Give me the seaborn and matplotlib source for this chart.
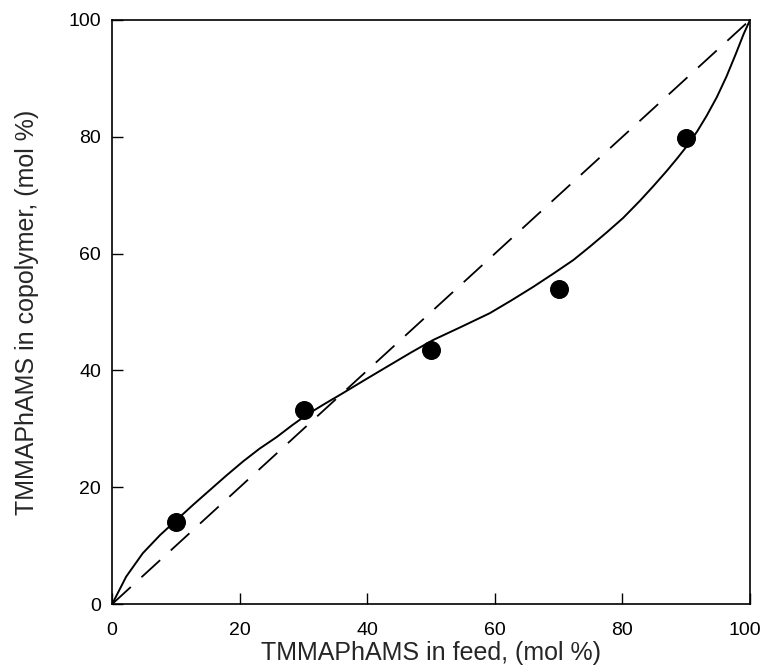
import numpy as np
import pandas as pd
import matplotlib
matplotlib.use('Agg')
import matplotlib.pyplot as plt
from matplotlib.transforms import ScaledTranslation
import seaborn as sns

# experimental copolymer composition
feed_pts = [10, 30, 50, 70, 90]
copoly_pts = [14.0, 33.2, 43.5, 54.0, 79.8]

# fitted composition curve
curve_feed = [0, 2.2, 4.8, 7.5, 10.1, 12.7, 15.3, 17.9, 20.5, 23.1, 25.8,
              28.2, 30.5, 33.2, 36.0, 39.8, 43.5, 46.9, 50.3, 54.8, 59.2,
              62.6, 66.0, 69.2, 72.3, 74.9, 77.5, 80.1, 82.7, 84.8, 86.9,
              88.5, 90.1, 91.7, 93.2, 94.8, 96.3, 97.7, 99.0, 100]
curve_copoly = [0, 4.7, 8.7, 11.8, 14.4, 17.0, 19.5, 22.0, 24.4, 26.6, 28.6,
                30.6, 32.4, 34.2, 36.0, 38.5, 40.9, 43.1, 45.2, 47.5, 49.8,
                52.0, 54.3, 56.6, 58.9, 61.2, 63.6, 66.1, 69.0, 71.5, 74.1,
                76.2, 78.4, 80.9, 83.6, 86.8, 90.3, 94.0, 97.6, 100]

# ideal (azeotropic) line
ideal_feed = [0, 100]
ideal_copoly = [0, 100]

sns.set_style('white')
plt.rcParams['font.family'] = ['Liberation Sans', 'DejaVu Sans']

fig = plt.figure(figsize=(7.63, 6.66), dpi=100)
ax = fig.add_axes([0.147, 0.093, 0.836, 0.877])

pts = pd.DataFrame({'feed': feed_pts, 'copoly': copoly_pts})
curve = pd.DataFrame({'feed': curve_feed, 'copoly': curve_copoly})
ideal = pd.DataFrame({'feed': ideal_feed, 'copoly': ideal_copoly})

sns.lineplot(data=ideal, x='feed', y='copoly', ax=ax, color='black',
             lw=1.3, sort=False)
ax.lines[-1].set_dashes([14, 8])
sns.lineplot(data=curve, x='feed', y='copoly', ax=ax, color='black',
             lw=1.4, sort=False)
ax.lines[-1].set_solid_joinstyle('round')
sns.scatterplot(data=pts, x='feed', y='copoly', ax=ax, color='black',
                s=160, edgecolor='black', zorder=5)

ax.set_xlim(0, 100)
ax.set_ylim(0, 100)
ax.set_xticks(range(0, 101, 20))
ax.set_yticks(range(0, 101, 20))
ax.tick_params(direction='in', length=8, width=1, labelsize=14, pad=8,
               top=False, right=False, bottom=True, left=True, colors='black')
ax.tick_params(axis='x', pad=13)
for s in ax.spines.values():
    s.set_color('black')
    s.set_linewidth(1.2)

# nudge the last x label so it stays inside the figure
last = ax.get_xticklabels()[-1]
last.set_transform(last.get_transform() + ScaledTranslation(-0.05, 0, fig.dpi_scale_trans))

ax.set_xlabel('TMMAPhAMS in feed, (mol %)', fontsize=18, labelpad=1)
ax.set_ylabel('TMMAPhAMS in copolymer, (mol %)', fontsize=18, labelpad=21)

fig.savefig('out.png', dpi=100)
